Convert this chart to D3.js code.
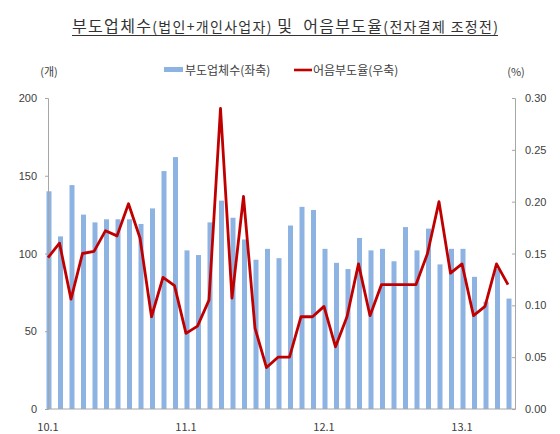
<!DOCTYPE html>
<meta charset="utf-8">
<style>
body { margin: 0; background: #fff; }
svg { font-family: "Noto Sans CJK KR", "Noto Sans", sans-serif; }
.axis path, .axis line { stroke: #a6a6a6; }
.axis text { fill: #404040; font-size: 11px; }
.legend text { fill: #404040; font-size: 12px; }
</style>
<body>
<script src="https://d3js.org/d3.v7.min.js"></script>
<script>

var width = 560,
    height = 434;

// months 10.1 .. 13.5
var months = [];
[10, 11, 12, 13].forEach(function(y) {
  for (var m = 1; m <= 12; m++) {
    if (y == 13 && m > 5) break;
    months.push(y + "." + m);
  }
});

var tickMonths = ["10.1", "11.1", "12.1", "13.1"];

// 부도업체수 (left axis)
var firms = [140, 111, 144, 125, 120, 122, 122, 122, 119, 129, 153, 162,
             102, 99, 120, 134, 123, 109, 96, 103, 97, 118, 130, 128,
             103, 94, 90, 110, 102, 103, 95, 117, 102, 116, 93, 103,
             103, 85, 69, 90, 71];

// 어음부도율 (right axis, %)
var rate = [0.146, 0.160, 0.106, 0.150, 0.152, 0.172, 0.167, 0.198, 0.165, 0.089, 0.127, 0.119,
            0.073, 0.080, 0.105, 0.290, 0.107, 0.205, 0.078, 0.040, 0.050, 0.050, 0.089, 0.089,
            0.099, 0.060, 0.089, 0.140, 0.090, 0.120, 0.120, 0.120, 0.120, 0.150, 0.200, 0.131,
            0.140, 0.090, 0.099, 0.140, 0.120];

var leftTicks = [0, 50, 100, 150, 200];
var rightTicks = [0, 0.05, 0.10, 0.15, 0.20, 0.25, 0.30];

var svg = d3.select("body").append("svg")
    .attr("width", width)
    .attr("height", height);

var x = d3.scalePoint().domain(months).range([48, 508]);
var yL = d3.scaleLinear().domain([0, 200]).range([409, 98]);
var yR = d3.scaleLinear().domain([0, 0.3]).range([409, 98]);

// title
var title = svg.append("text")
    .attr("x", 72)
    .attr("y", 32)
    .attr("fill", "#333")
    .attr("textLength", 426)
    .attr("lengthAdjust", "spacing")
    .style("white-space", "pre");
title.append("tspan").style("font-size", "16px").text("부도업체수");
title.append("tspan").style("font-size", "14px").text("(법인+개인사업자) ");
title.append("tspan").style("font-size", "16px").text("및  어음부도율");
title.append("tspan").style("font-size", "14px").text("(전자결제 조정전)");
svg.append("line")
    .attr("x1", 72).attr("x2", 498)
    .attr("y1", 35.5).attr("y2", 35.5)
    .attr("stroke", "#333").attr("stroke-width", 1);

// bars
svg.append("g")
  .selectAll("rect")
    .data(firms)
  .enter().append("rect")
    .attr("x", function(d, i) { return x(months[i]) - 2.5 + 1; })
    .attr("y", function(d) { return yL(d); })
    .attr("width", 5)
    .attr("height", function(d) { return yL(0) - yL(d); })
    .attr("fill", "#8db3e2");

// axes
var gL = svg.append("g")
    .attr("class", "axis")
    .attr("transform", "translate(48,0)")
    .call(d3.axisLeft(yL).tickValues(leftTicks).tickSize(3).tickPadding(8).tickSizeOuter(3));

var gR = svg.append("g")
    .attr("class", "axis")
    .attr("transform", "translate(515,0)")
    .call(d3.axisRight(yR).tickValues(rightTicks).tickFormat(d3.format(".2f"))
          .tickSize(-3).tickPadding(10).tickSizeOuter(-3));

var gB = svg.append("g")
    .attr("class", "axis")
    .attr("transform", "translate(0,409)");
gB.append("line")
    .attr("x1", 48).attr("x2", 515)
    .attr("stroke", "#a6a6a6");
gB.selectAll("text")
    .data(tickMonths)
  .enter().append("text")
    .attr("x", function(d) { return x(d); })
    .attr("y", 22)
    .attr("text-anchor", "middle")
    .text(function(d) { return d; });

// line
var line = d3.line()
    .x(function(d, i) { return x(months[i]); })
    .y(function(d) { return yR(d); });

svg.append("path")
    .datum(rate)
    .attr("d", line)
    .attr("fill", "none")
    .attr("stroke", "#c00000")
    .attr("stroke-width", 2.8)
    .attr("stroke-linejoin", "round");

// unit labels
svg.append("text")
    .attr("x", 49).attr("y", 76)
    .attr("text-anchor", "middle")
    .style("font-size", "11px").attr("fill", "#404040")
    .text("(개)");
svg.append("text")
    .attr("x", 516).attr("y", 76)
    .attr("text-anchor", "middle")
    .style("font-size", "11px").attr("fill", "#404040")
    .text("(%)");

// legend
var legend = svg.append("g").attr("class", "legend");
legend.append("rect")
    .attr("x", 164).attr("y", 67)
    .attr("width", 19).attr("height", 5)
    .attr("fill", "#8db3e2");
legend.append("text")
    .attr("x", 185).attr("y", 75)
    .text("부도업체수(좌축)");
legend.append("line")
    .attr("x1", 294).attr("x2", 312)
    .attr("y1", 70).attr("y2", 70)
    .attr("stroke", "#c00000").attr("stroke-width", 2.6);
legend.append("text")
    .attr("x", 313).attr("y", 75)
    .text("어음부도율(우축)");

</script>
